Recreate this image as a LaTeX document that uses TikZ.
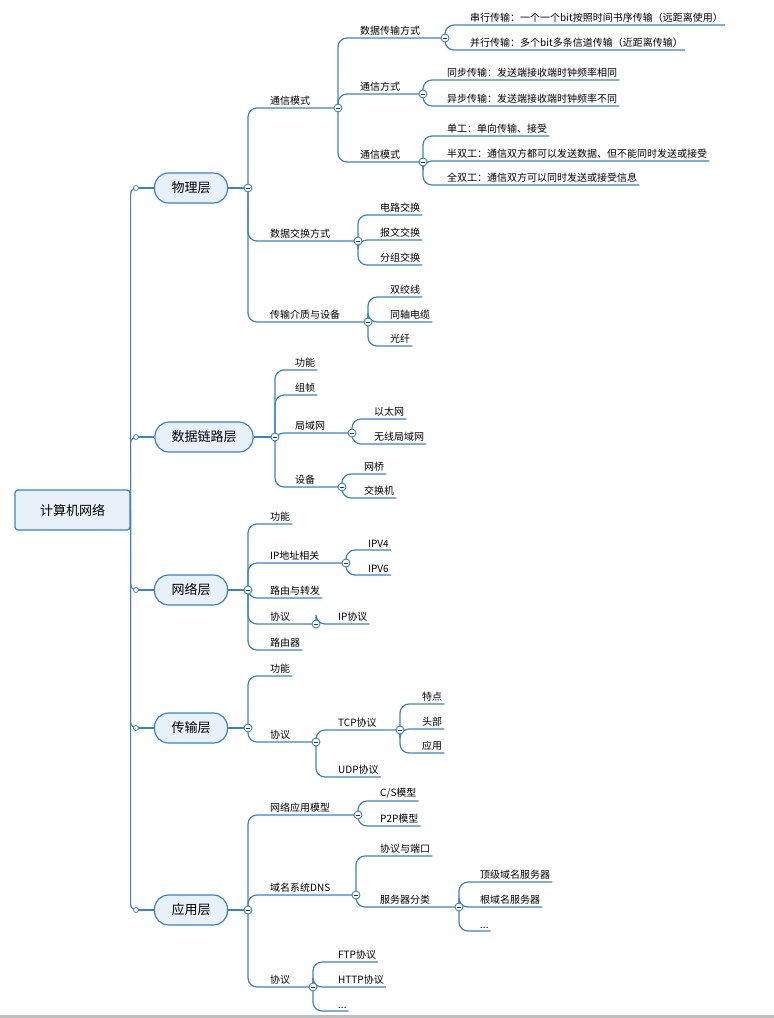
\documentclass[tikz,border=0pt]{standalone}
\usepackage{fontspec}
\setmainfont{Noto Sans CJK SC}
\definecolor{bl}{HTML}{3B82C4}
\definecolor{fl}{HTML}{E8F1FA}
\tikzset{
 cn/.style={draw=bl,line width=1.2pt,rounded corners=9pt},
 lt/.style={anchor=south west,inner xsep=2pt,inner ysep=2.5pt,font=\fontsize{10}{12}\selectfont},
 lv/.style={draw=bl,line width=1.2pt,fill=fl,rounded corners=14pt,minimum height=30pt,minimum width=73pt,font=\fontsize{13}{15}\selectfont},
}
\newcommand\lf[5]{\node[lt] (#1) at (#3,#4) {#5}; \draw[cn] (#2) |- (#1.south east);}
\newcommand\pn[6]{\node[lt] (#1) at (#3,#4) {#6}; \coordinate (#1c) at (#5,#4); \draw[cn] (#2) |- (#1c);}
\newcommand\cc[1]{\fill[white] (#1) circle (4pt); \draw[bl,line width=0.9pt] (#1) circle (4pt); \draw[black!80,line width=0.9pt] ([xshift=-2pt]#1) -- ([xshift=2pt]#1);}
\newcommand\smc[1]{\fill[white] (#1) circle (2.5pt); \draw[bl,line width=0.8pt] (#1) circle (2.5pt);}
\begin{document}
\begin{tikzpicture}[x=1pt,y=-1pt]
\useasboundingbox (0,0) rectangle (774,1018);
\draw[black!25,line width=3pt] (0,1016) -- (774,1016);
% root
\node[draw=bl,line width=1.2pt,fill=fl,rounded corners=3pt,minimum width=115pt,minimum height=40pt,font=\fontsize{13}{15}\selectfont] (root) at (72.5,510) {计算机网络};
\node[lv] (L1) at (191,188) {物理层};
\node[lv,minimum width=98pt] (L2) at (204,437) {数据链路层};
\node[lv] (L3) at (191,590) {网络层};
\node[lv] (L4) at (191,728) {传输层};
\node[lv] (L5) at (191,910) {应用层};
\foreach \i/\y in {1/188,2/437,3/590,4/728,5/910}{
 \coordinate (s\i) at (136,\y);
 \draw[cn,rounded corners=6pt] (root.east) |- (s\i);
 \draw[cn] (s\i) -- (L\i.west);
}
\coordinate (c1) at (248,188); \coordinate (c2) at (275,437);
\coordinate (c3) at (248,590); \coordinate (c4) at (248,728); \coordinate (c5) at (248,910);
\foreach \i in {1,...,5}{\draw[cn] (L\i.east) -- (c\i);}
% physical
\pn{a}{c1}{268}{108}{338}{通信模式}
\pn{b}{c1}{268}{241}{358}{数据交换方式}
\pn{d}{c1}{268}{322}{368}{传输介质与设备}
\pn{aa}{ac}{358}{38}{445}{数据传输方式}
\pn{ab}{ac}{358}{94}{423}{通信方式}
\pn{ad}{ac}{358}{162}{423}{通信模式}
\lf{aa1}{aac}{468}{25}{串行传输：一个一个bit按照时间书序传输（远距离使用）}
\lf{aa2}{aac}{468}{50}{并行传输：多个bit多条信道传输（近距离传输）}
\lf{ab1}{abc}{445}{80}{同步传输：发送端接收端时钟频率相同}
\lf{ab2}{abc}{445}{106}{异步传输：发送端接收端时钟频率不同}
\lf{ad1}{adc}{445}{136}{单工：单向传输、接受}
\lf{ad2}{adc}{445}{161}{半双工：通信双方都可以发送数据、但不能同时发送或接受}
\lf{ad3}{adc}{445}{185}{全双工：通信双方可以同时发送或接受信息}
\lf{b1}{bc}{378}{215}{电路交换}
\lf{b2}{bc}{378}{240}{报文交换}
\lf{b3}{bc}{378}{265}{分组交换}
\lf{d1}{dc}{388}{297}{双绞线}
\lf{d2}{dc}{388}{322}{同轴电缆}
\lf{d3}{dc}{388}{346}{光纤}
% data link
\lf{e1}{c2}{293}{370}{功能}
\lf{e2}{c2}{293}{395}{组帧}
\pn{e3}{c2}{293}{433}{352}{局域网}
\pn{e4}{c2}{293}{487}{342}{设备}
\lf{e31}{e3c}{372}{419}{以太网}
\lf{e32}{e3c}{372}{444}{无线局域网}
\lf{e41}{e4c}{362}{474}{网桥}
\lf{e42}{e4c}{362}{498}{交换机}
% network
\lf{f1}{c3}{268}{524}{功能}
\pn{f2}{c3}{268}{563}{346}{IP地址相关}
\lf{f3}{c3}{268}{598}{路由与转发}
\pn{f4}{c3}{268}{624}{316}{协议}
\lf{f5}{c3}{268}{650}{路由器}
\lf{f21}{f2c}{366}{550}{IPV4}
\lf{f22}{f2c}{366}{575}{IPV6}
\lf{f41}{f4c}{336}{624}{IP协议}
% transport
\lf{g1}{c4}{268}{676}{功能}
\pn{g2}{c4}{268}{742}{316}{协议}
\pn{g21}{g2c}{336}{730}{400}{TCP协议}
\lf{g22}{g2c}{336}{777}{UDP协议}
\lf{g211}{g21c}{420}{704}{特点}
\lf{g212}{g21c}{420}{729}{头部}
\lf{g213}{g21c}{420}{753}{应用}
% application
\pn{h1}{c5}{268}{815}{358}{网络应用模型}
\pn{h2}{c5}{268}{895}{356}{域名系统DNS}
\pn{h3}{c5}{268}{987}{313}{协议}
\lf{h11}{h1c}{378}{801}{C/S模型}
\lf{h12}{h1c}{378}{826}{P2P模型}
\lf{h21}{h2c}{378}{856}{协议与端口}
\pn{h22}{h2c}{378}{907}{459}{服务器分类}
\lf{h221}{h22c}{478}{882}{顶级域名服务器}
\lf{h222}{h22c}{478}{907}{根域名服务器}
\lf{h223}{h22c}{478}{931}{...}
\lf{h31}{h3c}{336}{962}{FTP协议}
\lf{h32}{h3c}{336}{987}{HTTP协议}
\lf{h33}{h3c}{336}{1011}{...}
% circles
\foreach \i in {1,...,5}{\smc{s\i}}
\foreach \c in {c1,c2,c3,c4,c5,ac,bc,dc,aac,abc,adc,e3c,e4c,f2c,f4c,g2c,g21c,h1c,h2c,h3c,h22c}{\cc{\c}}
\end{tikzpicture}
\end{document}
